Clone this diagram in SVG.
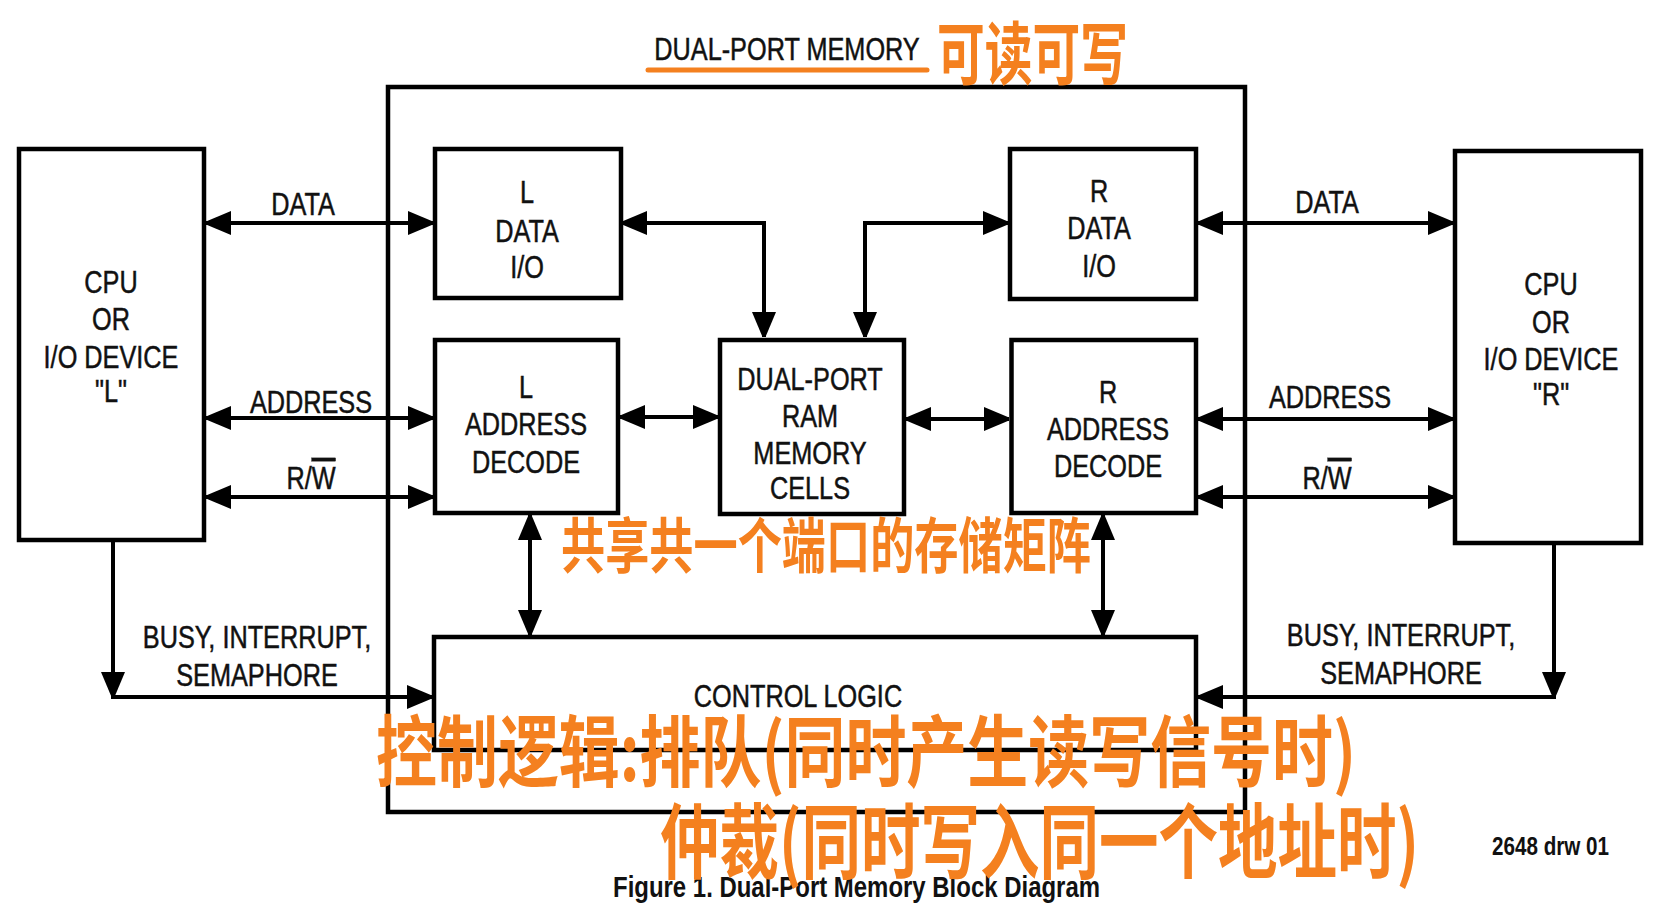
<svg xmlns="http://www.w3.org/2000/svg" width="1661" height="919" viewBox="0 0 1661 919">
<style>
.box{fill:none;stroke:#000;stroke-width:4.5}
.ln{fill:none;stroke:#000;stroke-width:4}
.t{font-family:"Liberation Sans",Arial,sans-serif;font-size:32px;fill:#111;stroke:#111;stroke-width:0.5;text-anchor:middle}
.hw{font-family:"Noto Sans CJK SC",sans-serif;font-weight:700;fill:#F4801F}
</style>
<defs>
<marker id="ah" viewBox="-26 -13 26 26" refX="0" refY="0" markerWidth="26" markerHeight="26" markerUnits="userSpaceOnUse" orient="auto-start-reverse">
<path d="M0,-1.5 L0,1.5 L-25,12 L-25,-12 Z" fill="#000"/>
</marker>
</defs>
<rect width="1661" height="919" fill="#fff"/>

<g id="title">
<text class="t" transform="translate(787,60) scale(.79 1)">DUAL-PORT MEMORY</text>
<line x1="648" y1="70" x2="927" y2="70" stroke="#F4801F" stroke-width="5" stroke-linecap="round"/>
</g>

<g id="dual-port-memory">
<rect class="box" x="388" y="87" width="857" height="725"/>
</g>

<g id="connectors">
<line class="ln" x1="206" y1="223" x2="433" y2="223" marker-start="url(#ah)" marker-end="url(#ah)"/>
<line class="ln" x1="206" y1="418" x2="433" y2="418" marker-start="url(#ah)" marker-end="url(#ah)"/>
<line class="ln" x1="206" y1="497" x2="433" y2="497" marker-start="url(#ah)" marker-end="url(#ah)"/>
<path class="ln" d="M622,223 H764 V337" marker-start="url(#ah)" marker-end="url(#ah)"/>
<path class="ln" d="M1008,223 H865 V337" marker-start="url(#ah)" marker-end="url(#ah)"/>
<line class="ln" x1="620" y1="417" x2="718" y2="417" marker-start="url(#ah)" marker-end="url(#ah)"/>
<line class="ln" x1="906" y1="419" x2="1009" y2="419" marker-start="url(#ah)" marker-end="url(#ah)"/>
<line class="ln" x1="1198" y1="223" x2="1453" y2="223" marker-start="url(#ah)" marker-end="url(#ah)"/>
<line class="ln" x1="1198" y1="419" x2="1453" y2="419" marker-start="url(#ah)" marker-end="url(#ah)"/>
<line class="ln" x1="1198" y1="497" x2="1453" y2="497" marker-start="url(#ah)" marker-end="url(#ah)"/>
<line class="ln" x1="530" y1="515" x2="530" y2="635" marker-start="url(#ah)" marker-end="url(#ah)"/>
<line class="ln" x1="1103" y1="515" x2="1103" y2="635" marker-start="url(#ah)" marker-end="url(#ah)"/>
<line class="ln" x1="113" y1="542" x2="113" y2="697" marker-end="url(#ah)"/>
<line class="ln" x1="111" y1="697" x2="432" y2="697" marker-end="url(#ah)"/>
<line class="ln" x1="1554" y1="545" x2="1554" y2="697" marker-end="url(#ah)"/>
<line class="ln" x1="1556" y1="697" x2="1198" y2="697" marker-end="url(#ah)"/>
<text class="t" transform="translate(303,215) scale(.79 1)">DATA</text>
<text class="t" transform="translate(311,413) scale(.79 1)">ADDRESS</text>
<text class="t" transform="translate(311,489) scale(.79 1)">R/<tspan style="text-decoration:overline">W</tspan></text>
<text class="t" transform="translate(1327,213) scale(.79 1)">DATA</text>
<text class="t" transform="translate(1330,408) scale(.79 1)">ADDRESS</text>
<text class="t" transform="translate(1327,489) scale(.79 1)">R/<tspan style="text-decoration:overline">W</tspan></text>
<text class="t" transform="translate(257,648) scale(.79 1)">BUSY, INTERRUPT,</text>
<text class="t" transform="translate(257,686) scale(.79 1)">SEMAPHORE</text>
<text class="t" transform="translate(1401,646) scale(.79 1)">BUSY, INTERRUPT,</text>
<text class="t" transform="translate(1401,684) scale(.79 1)">SEMAPHORE</text>
</g>

<g id="cpu-l">
<rect class="box" x="19" y="149" width="185" height="391"/>
<text class="t" transform="translate(111,293) scale(.79 1)"><tspan x="0" y="0">CPU</tspan><tspan x="0" y="37">OR</tspan><tspan x="0" y="75">I/O DEVICE</tspan><tspan x="0" y="109">"L"</tspan></text>
</g>

<g id="cpu-r">
<rect class="box" x="1455" y="151" width="186" height="392"/>
<text class="t" transform="translate(1551,295) scale(.79 1)"><tspan x="0" y="0">CPU</tspan><tspan x="0" y="38">OR</tspan><tspan x="0" y="75">I/O DEVICE</tspan><tspan x="0" y="110">"R"</tspan></text>
</g>

<g id="l-data-io">
<rect class="box" x="435" y="149" width="186" height="149"/>
<text class="t" transform="translate(527,203) scale(.79 1)"><tspan x="0" y="0">L</tspan><tspan x="0" y="39">DATA</tspan><tspan x="0" y="75">I/O</tspan></text>
</g>

<g id="r-data-io">
<rect class="box" x="1010" y="149" width="186" height="150"/>
<text class="t" transform="translate(1099,202) scale(.79 1)"><tspan x="0" y="0">R</tspan><tspan x="0" y="37">DATA</tspan><tspan x="0" y="75">I/O</tspan></text>
</g>

<g id="l-address-decode">
<rect class="box" x="435" y="340" width="183" height="173"/>
<text class="t" transform="translate(526,398) scale(.79 1)"><tspan x="0" y="0">L</tspan><tspan x="0" y="37">ADDRESS</tspan><tspan x="0" y="75">DECODE</tspan></text>
</g>

<g id="ram">
<rect class="box" x="720" y="340" width="184" height="174"/>
<text class="t" transform="translate(810,390) scale(.79 1)"><tspan x="0" y="0">DUAL-PORT</tspan><tspan x="0" y="37">RAM</tspan><tspan x="0" y="74">MEMORY</tspan><tspan x="0" y="109">CELLS</tspan></text>
</g>

<g id="r-address-decode">
<rect class="box" x="1011.5" y="340" width="184.5" height="173"/>
<text class="t" transform="translate(1108,403) scale(.79 1)"><tspan x="0" y="0">R</tspan><tspan x="0" y="37">ADDRESS</tspan><tspan x="0" y="74">DECODE</tspan></text>
</g>

<g id="control-logic">
<rect class="box" x="434" y="637" width="762" height="113"/>
<text class="t" transform="translate(798,707) scale(.79 1)">CONTROL LOGIC</text>
</g>

<g id="caption">
<text x="613" y="897" font-family="Liberation Sans, Arial, sans-serif" font-weight="700" font-size="30" fill="#111" textLength="487" lengthAdjust="spacingAndGlyphs">Figure 1. Dual-Port Memory Block Diagram</text>
<text x="1492" y="855" font-family="Liberation Sans, Arial, sans-serif" font-weight="700" font-size="25" fill="#111" textLength="117" lengthAdjust="spacingAndGlyphs">2648 drw 01</text>
</g>

<g id="annotations">
<text class="hw" x="937" y="79" font-size="68" textLength="191" lengthAdjust="spacingAndGlyphs">可读可写</text>
<text class="hw" x="561" y="568" font-size="60" textLength="530" lengthAdjust="spacingAndGlyphs">共享共一个端口的存储矩阵</text>
<text class="hw" x="376" y="781" font-size="78" textLength="980" lengthAdjust="spacingAndGlyphs">控制逻辑:排队(同时产生读写信号时)</text>
<text class="hw" x="660" y="872" font-size="82" textLength="759" lengthAdjust="spacingAndGlyphs">仲裁(同时写入同一个地址时)</text>
</g>
</svg>
